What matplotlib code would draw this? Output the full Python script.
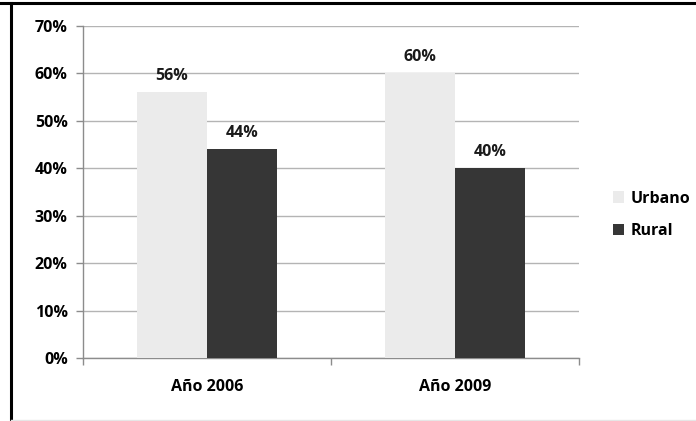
import numpy as np
import matplotlib.pyplot as plt
from matplotlib.lines import Line2D

categories = ['Año 2006', 'Año 2009']
urbano = [56, 60]
rural = [44, 40]
series_names = ['Urbano', 'Rural']
y_ticks = [0, 10, 20, 30, 40, 50, 60, 70]

plt.rcParams['font.family'] = ['Open Sans', 'DejaVu Sans']

fig = plt.figure(figsize=(6.96, 4.21), dpi=100)
ax = fig.add_axes([83 / 696, 1 - 358 / 421, 496 / 696, 332 / 421])

fs = 11.5
x = np.arange(len(categories))
w = 0.282
b1 = ax.bar(x - w / 2, urbano, w, color='#ebebeb', label=series_names[0], zorder=3)
b2 = ax.bar(x + w / 2, rural, w, color='#363636', label=series_names[1], zorder=3)

# value labels above the bars
for bars, vals in [(b1, urbano), (b2, rural)]:
    for rect, v in zip(bars, vals):
        ax.annotate(f'{v}%', (rect.get_x() + rect.get_width() / 2, v),
                    xytext=(0, 6), textcoords='offset points',
                    ha='center', va='bottom', fontsize=fs, fontweight='bold',
                    color='#1a1a1a')

ax.set_xlim(-0.5, 1.5)
ax.set_ylim(0, 70)
ax.set_yticks(y_ticks)
ax.set_yticklabels([f'{t}%' for t in y_ticks], fontsize=fs, fontweight='bold')
ax.yaxis.grid(True, color='#b4b4b4', linewidth=1, zorder=0)
ax.set_axisbelow(True)

ax.set_xticks(x)
ax.set_xticklabels(categories, fontsize=fs, fontweight='bold')
ax.tick_params(axis='x', length=0, pad=15)
ax.set_xticks([-0.5, 0.5, 1.5], minor=True)
ax.tick_params(axis='x', which='minor', length=5, color='#8c8c8c', width=1)
ax.tick_params(axis='y', length=5, color='#8c8c8c', width=1, pad=6)

for s in ['top', 'right']:
    ax.spines[s].set_visible(False)
for s in ['left', 'bottom']:
    ax.spines[s].set_color('#8c8c8c')
    ax.spines[s].set_linewidth(1)

ax.legend(loc='center left', bbox_to_anchor=(1.04, 0.431), frameon=False,
          prop={'weight': 'bold', 'size': fs}, handlelength=0.7,
          handleheight=0.7, handletextpad=0.4, labelspacing=1.05)

# outer border of the original picture
fig.add_artist(Line2D([0, 1], [1 - 3 / 421, 1 - 3 / 421], color='black', linewidth=2.2))
fig.add_artist(Line2D([11 / 696, 11 / 696], [0, 1 - 3 / 421], color='black', linewidth=2.2))
fig.add_artist(Line2D([11 / 696, 1], [1 / 421, 1 / 421], color='#e6e6e6', linewidth=1))

fig.savefig('out.png', dpi=100)
